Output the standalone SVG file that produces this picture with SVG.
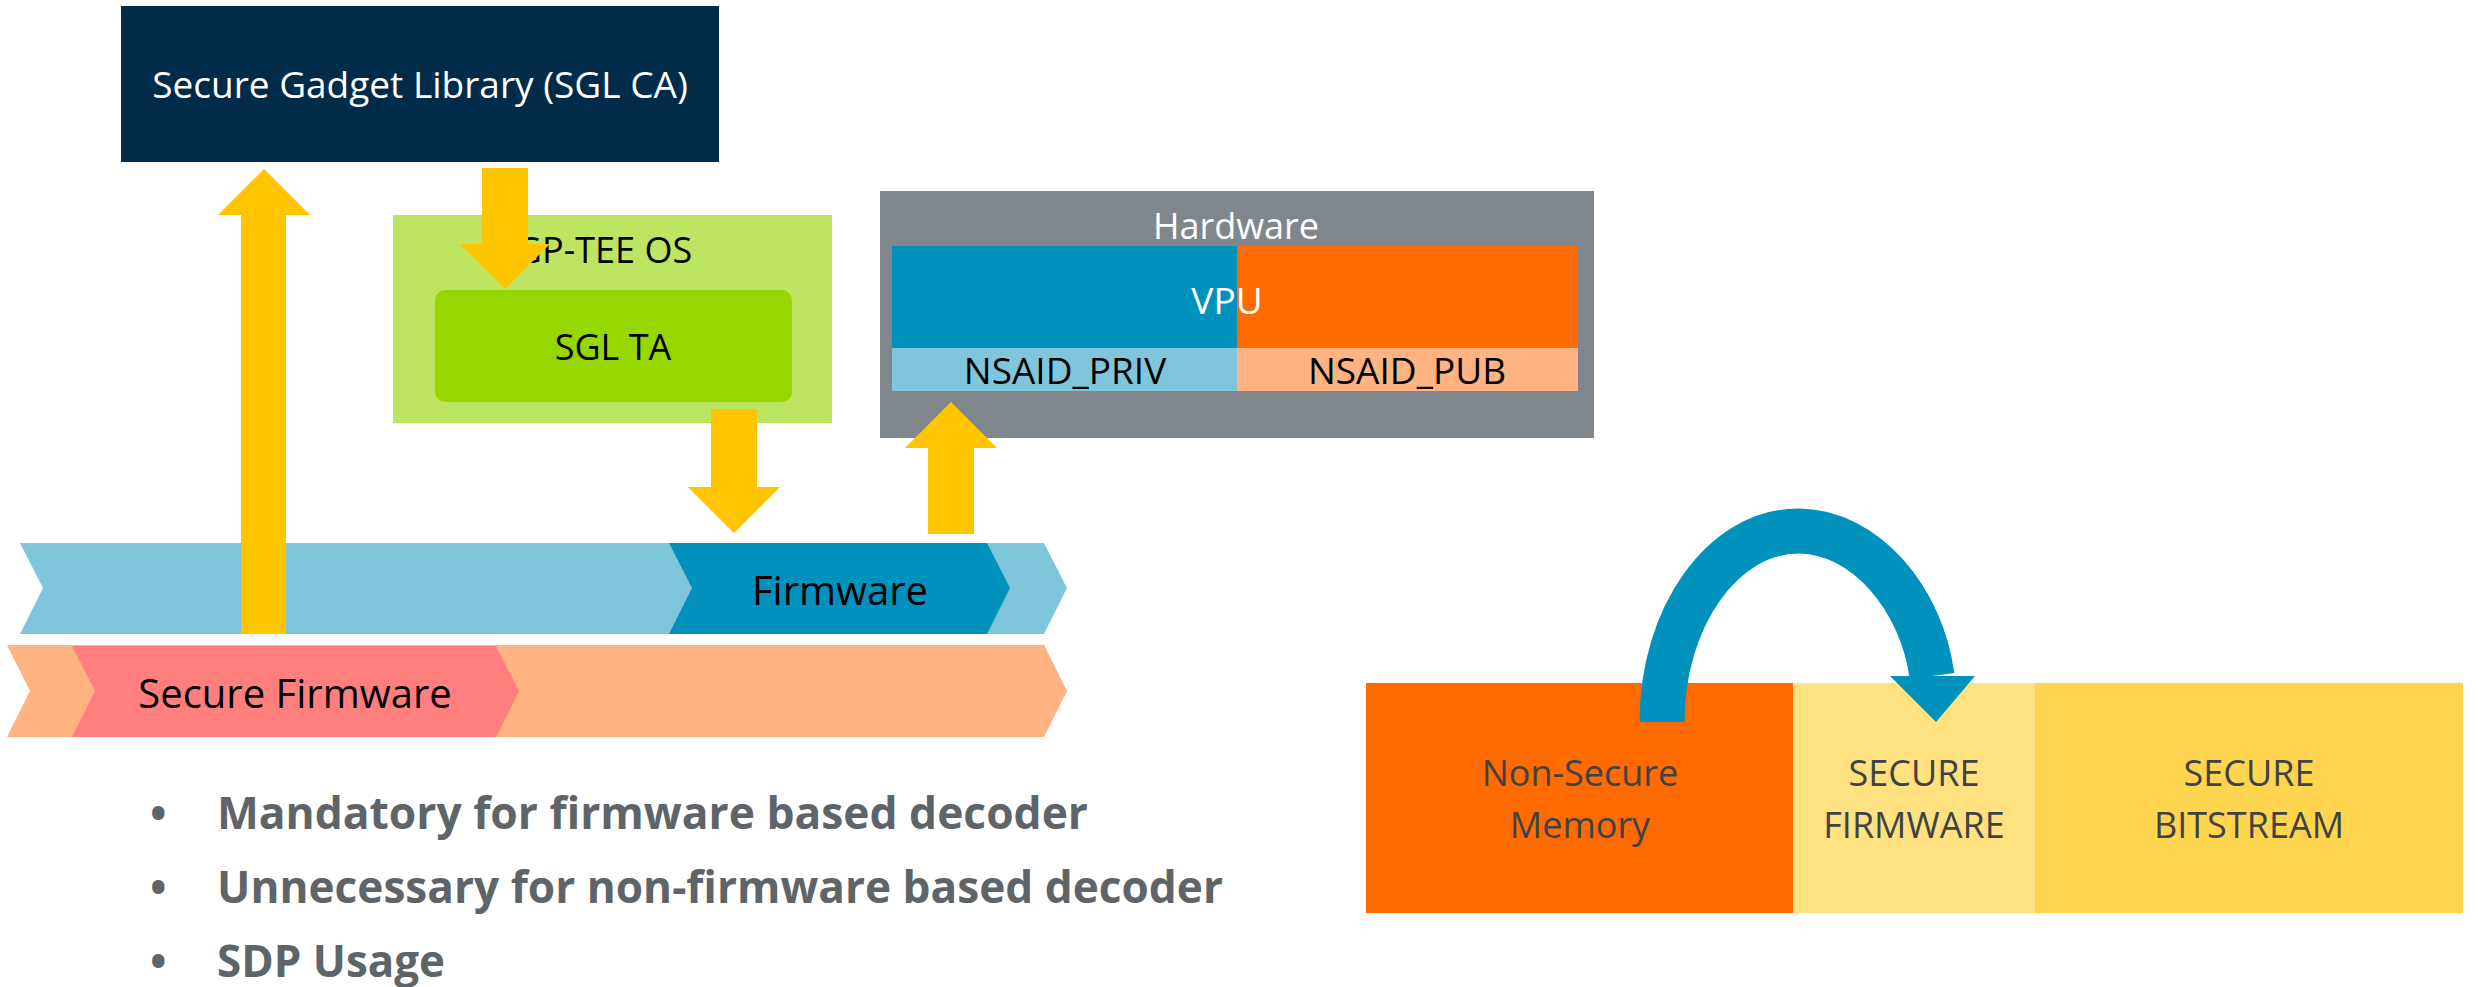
<svg xmlns="http://www.w3.org/2000/svg" width="2478" height="987" viewBox="0 0 2478 987">
<style>
.t{font-family:"Open Sans","Noto Sans","DejaVu Sans",sans-serif;text-anchor:middle}
.w{fill:#ffffff}
.k{fill:#000000}
.g{fill:#404244}
.b{font-family:"Open Sans","Noto Sans","DejaVu Sans",sans-serif;font-weight:bold;fill:#5E6468}
.arrow{fill:#FFC600}
</style>
<rect width="2478" height="987" fill="#ffffff"/>
<g id="node-sgl-ca">
<rect x="121" y="6" width="598" height="156" fill="#002B49"/>
<text class="t w" x="420" y="98" font-size="37">Secure Gadget Library (SGL CA)</text>
</g>
<g id="node-gp-tee-os">
<rect x="393" y="215" width="439" height="208" fill="#BDE562"/>
<text class="t k" x="604" y="263" font-size="36">GP-TEE OS</text>
</g>
<g id="node-sgl-ta">
<rect x="435" y="290" width="357" height="112" rx="10" fill="#97D700"/>
<text class="t k" x="613" y="360" font-size="36">SGL TA</text>
</g>
<g id="node-hardware">
<rect x="880" y="191" width="714" height="247" fill="#7F868C"/>
<text class="t w" x="1236" y="239" font-size="36">Hardware</text>
<rect x="892" y="246" width="345" height="102" fill="#0091BD"/>
<rect x="1237" y="246" width="341" height="102" fill="#FF6B00"/>
<text class="t w" x="1227" y="314" font-size="37">VPU</text>
<rect x="892" y="348" width="345" height="43" fill="#7FC6DD"/>
<rect x="1237" y="348" width="341" height="43" fill="#FFB380"/>
<text class="t k" x="1065" y="384" font-size="37">NSAID_PRIV</text>
<text class="t k" x="1407" y="384" font-size="37">NSAID_PUB</text>
</g>
<g id="node-firmware-band">
<polygon points="20,543 1044,543 1067,588 1044,634 20,634 43,588" fill="#7FC6DD"/>
<polygon points="669,543 987,543 1010,588 987,634 669,634 692,588" fill="#0091BD"/>
<text class="t k" x="840" y="605" font-size="40">Firmware</text>
</g>
<g id="node-secure-firmware-band">
<polygon points="7,645 1044,645 1067,691 1044,737 7,737 30,691" fill="#FFB380"/>
<polygon points="72,646 496,646 519,691 496,737 72,737 95,691" fill="#FF7F7F"/>
<text class="t k" x="295" y="708" font-size="40">Secure Firmware</text>
</g>
<g id="bullets">
<text class="b" x="150" y="829" font-size="44">•</text>
<text class="b" x="217" y="829" font-size="45" textLength="871" lengthAdjust="spacingAndGlyphs">Mandatory for firmware based decoder</text>
<text class="b" x="150" y="903" font-size="44">•</text>
<text class="b" x="217" y="903" font-size="45" textLength="1006" lengthAdjust="spacingAndGlyphs">Unnecessary for non-firmware based decoder</text>
<text class="b" x="150" y="977" font-size="44">•</text>
<text class="b" x="217" y="977" font-size="45" textLength="228" lengthAdjust="spacingAndGlyphs">SDP Usage</text>
</g>
<g id="node-non-secure-memory">
<rect x="1366" y="683" width="427" height="230" fill="#FF6B00"/>
<text class="t g" x="1580" y="786" font-size="36">Non-Secure</text>
<text class="t g" x="1580" y="838" font-size="36">Memory</text>
</g>
<g id="node-secure-firmware">
<rect x="1793" y="683" width="242" height="230" fill="#FFE17F"/>
<text class="t g" x="1914" y="786" font-size="36">SECURE</text>
<text class="t g" x="1914" y="838" font-size="36">FIRMWARE</text>
</g>
<g id="node-secure-bitstream">
<rect x="2035" y="683" width="428" height="230" fill="#FFD54F"/>
<text class="t g" x="2249" y="786" font-size="36">SECURE</text>
<text class="t g" x="2249" y="838" font-size="36">BITSTREAM</text>
</g>
<g id="connectors">
<polygon class="arrow" points="241,634 241,215 218,215 264,169 310,215 286,215 286,634"/>
<polygon class="arrow" points="482,168 528,168 528,244 550,244 505,289 460,244 482,244"/>
<polygon class="arrow" points="711,409 757,409 757,487 780,487 734,533 688,487 711,487"/>
<polygon class="arrow" points="928,534 928,448 905,448 951,402 997,448 974,448 974,534"/>
<path d="M1662,722 C1662,617 1723,531 1798,531 C1866,531 1922,600 1932,676" fill="none" stroke="#0092BC" stroke-width="45"/>
<polygon points="1890,676 1975,676 1936,722" fill="#0092BC"/>
</g>
</svg>
